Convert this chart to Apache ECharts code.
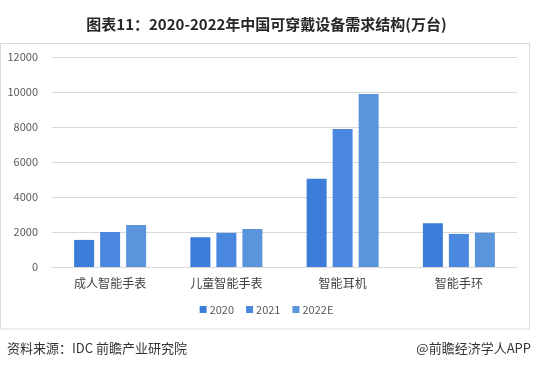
<!DOCTYPE html>
<html><head><meta charset="utf-8">
<script src="https://cdn.jsdelivr.net/npm/echarts@6/dist/echarts.min.js"></script>
<style>html,body{margin:0;padding:0;background:#fff}#c{width:533px;height:370px}</style>
</head><body><div id="c"></div>
<script>
const categories = ['成人智能手表','儿童智能手表','智能耳机','智能手环'];
const seriesNames = ['2020','2021','2022E'];
const v2020 = [1550, 1700, 5050, 2500];
const v2021 = [2000, 1950, 7880, 1890];
const v2022E = [2400, 2170, 9880, 1960];
const colors = ['#3b7dd8','#4a88e0','#5a95dc'];
const chart = echarts.init(document.getElementById('c'));
const font = '"Microsoft YaHei","Noto Sans CJK SC",sans-serif';
chart.setOption({
  animation:false,
  textStyle:{fontFamily:font},
  title:{text:'图表11：2020-2022年中国可穿戴设备需求结构(万台)',left:'center',top:12,
    textStyle:{fontSize:15,fontWeight:'bold',color:'#262626',fontFamily:font}},
  graphic:[
    {type:'rect',shape:{x:0.5,y:43.5,width:529,height:285.5},style:{fill:'none',stroke:'#d9d9d9',lineWidth:1}},
    {type:'text',left:7,top:342,style:{text:'资料来源：IDC 前瞻产业研究院',fontSize:13,fill:'#333',fontFamily:font}},
    {type:'text',right:2,top:342,style:{text:'@前瞻经济学人APP',fontSize:13,fill:'#333',fontFamily:font}}
  ],
  legend:{data:seriesNames,bottom:50,left:'center',itemWidth:7,itemHeight:7,itemGap:12,icon:'rect',
    textStyle:{fontSize:11,color:'#595959',padding:[0,0,0,-2]}},
  grid:{left:52,right:16,top:57,bottom:103},
  xAxis:{type:'category',data:categories,
    axisLine:{lineStyle:{color:'#d9d9d9'}},axisTick:{show:false},
    axisLabel:{fontSize:12,color:'#404040',margin:10}},
  yAxis:{type:'value',min:0,max:12000,interval:2000,
    axisLine:{show:false},axisTick:{show:false},
    splitLine:{lineStyle:{color:'#d9d9d9'}},
    axisLabel:{fontSize:11,color:'#595959',margin:14,formatter:function(v){return String(v);}}},
  series:[
    {name:seriesNames[0],type:'bar',data:v2020,barWidth:20,barGap:'30%',itemStyle:{color:colors[0]}},
    {name:seriesNames[1],type:'bar',data:v2021,barWidth:20,barGap:'30%',itemStyle:{color:colors[1]}},
    {name:seriesNames[2],type:'bar',data:v2022E,barWidth:20,barGap:'30%',itemStyle:{color:colors[2]}}
  ]
});
</script></body></html>
